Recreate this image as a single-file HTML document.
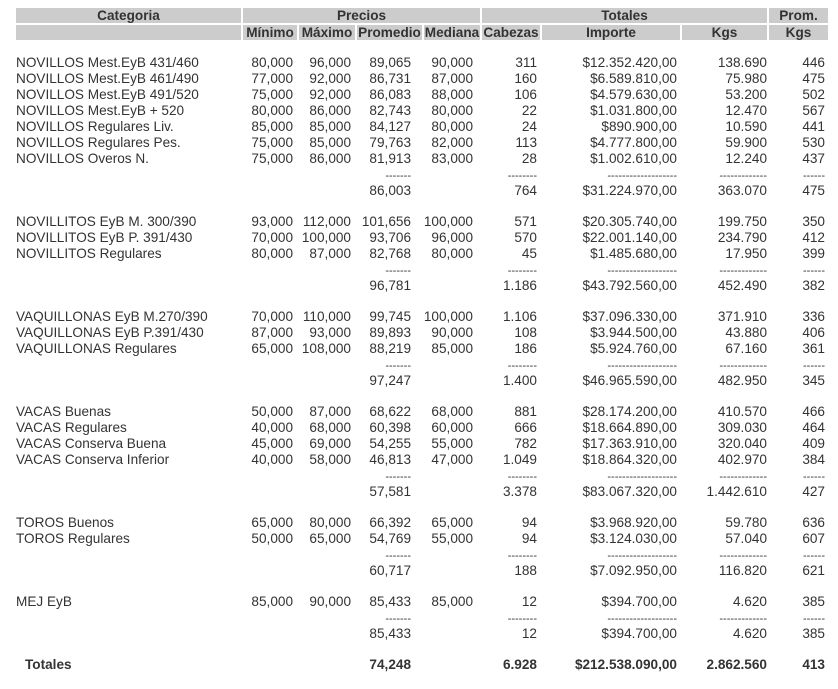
<!DOCTYPE html>
<html><head><meta charset="utf-8"><style>
body{margin:0;width:838px;height:689px;background:#fff;position:relative;font-family:"Liberation Sans",Arial,sans-serif;font-size:13.6px;color:#333;overflow:hidden}
.h{position:absolute;background:#ccc;font-weight:bold;text-align:center;height:15px;line-height:15px;color:#333}
.r{position:absolute;left:0;width:838px;height:16px;line-height:16px}
.r span{position:absolute;white-space:nowrap}
.c{left:16px}.mn{right:545px}.mx{right:487px}.pr{right:427px}.md{right:365px}.cb{right:301px}.im{right:161px}.kg{right:71px}.pk{right:13px}
.d{font-size:11px;top:1px}
.b{font-weight:bold}
</style></head><body>
<div class="h" style="left:16px;top:8px;width:225px">Categoria</div>
<div class="h" style="left:243px;top:8px;width:237px">Precios</div>
<div class="h" style="left:482px;top:8px;width:285px">Totales</div>
<div class="h" style="left:769px;top:8px;width:59px">Prom.</div>
<div class="h" style="left:16px;top:25px;width:225px"></div>
<div class="h" style="left:243px;top:25px;width:54px">Mínimo</div>
<div class="h" style="left:299px;top:25px;width:56px">Máximo</div>
<div class="h" style="left:357px;top:25px;width:65px">Promedio</div>
<div class="h" style="left:424px;top:25px;width:56px">Mediana</div>
<div class="h" style="left:482px;top:25px;width:58px">Cabezas</div>
<div class="h" style="left:542px;top:25px;width:138px">Importe</div>
<div class="h" style="left:682px;top:25px;width:85px">Kgs</div>
<div class="h" style="left:769px;top:25px;width:59px">Kgs</div>

<div class="r" style="top:55px"><span class="c">NOVILLOS Mest.EyB 431/460</span><span class="mn">80,000</span><span class="mx">96,000</span><span class="pr">89,065</span><span class="md">90,000</span><span class="cb">311</span><span class="im">$12.352.420,00</span><span class="kg">138.690</span><span class="pk">446</span></div>
<div class="r" style="top:71px"><span class="c">NOVILLOS Mest.EyB 461/490</span><span class="mn">77,000</span><span class="mx">92,000</span><span class="pr">86,731</span><span class="md">87,000</span><span class="cb">160</span><span class="im">$6.589.810,00</span><span class="kg">75.980</span><span class="pk">475</span></div>
<div class="r" style="top:87px"><span class="c">NOVILLOS Mest.EyB 491/520</span><span class="mn">75,000</span><span class="mx">92,000</span><span class="pr">86,083</span><span class="md">88,000</span><span class="cb">106</span><span class="im">$4.579.630,00</span><span class="kg">53.200</span><span class="pk">502</span></div>
<div class="r" style="top:103px"><span class="c">NOVILLOS Mest.EyB + 520</span><span class="mn">80,000</span><span class="mx">86,000</span><span class="pr">82,743</span><span class="md">80,000</span><span class="cb">22</span><span class="im">$1.031.800,00</span><span class="kg">12.470</span><span class="pk">567</span></div>
<div class="r" style="top:119px"><span class="c">NOVILLOS Regulares Liv.</span><span class="mn">85,000</span><span class="mx">85,000</span><span class="pr">84,127</span><span class="md">80,000</span><span class="cb">24</span><span class="im">$890.900,00</span><span class="kg">10.590</span><span class="pk">441</span></div>
<div class="r" style="top:135px"><span class="c">NOVILLOS Regulares Pes.</span><span class="mn">75,000</span><span class="mx">85,000</span><span class="pr">79,763</span><span class="md">82,000</span><span class="cb">113</span><span class="im">$4.777.800,00</span><span class="kg">59.900</span><span class="pk">530</span></div>
<div class="r" style="top:151px"><span class="c">NOVILLOS Overos N.</span><span class="mn">75,000</span><span class="mx">86,000</span><span class="pr">81,913</span><span class="md">83,000</span><span class="cb">28</span><span class="im">$1.002.610,00</span><span class="kg">12.240</span><span class="pk">437</span></div>
<div class="r" style="top:167px"><span class="pr d">-------</span><span class="cb d">--------</span><span class="im d">-------------------</span><span class="kg d">-------------</span><span class="pk d">------</span></div>
<div class="r" style="top:183px"><span class="pr">86,003</span><span class="cb">764</span><span class="im">$31.224.970,00</span><span class="kg">363.070</span><span class="pk">475</span></div>

<div class="r" style="top:214px"><span class="c">NOVILLITOS EyB M. 300/390</span><span class="mn">93,000</span><span class="mx">112,000</span><span class="pr">101,656</span><span class="md">100,000</span><span class="cb">571</span><span class="im">$20.305.740,00</span><span class="kg">199.750</span><span class="pk">350</span></div>
<div class="r" style="top:230px"><span class="c">NOVILLITOS EyB P. 391/430</span><span class="mn">70,000</span><span class="mx">100,000</span><span class="pr">93,706</span><span class="md">96,000</span><span class="cb">570</span><span class="im">$22.001.140,00</span><span class="kg">234.790</span><span class="pk">412</span></div>
<div class="r" style="top:246px"><span class="c">NOVILLITOS Regulares</span><span class="mn">80,000</span><span class="mx">87,000</span><span class="pr">82,768</span><span class="md">80,000</span><span class="cb">45</span><span class="im">$1.485.680,00</span><span class="kg">17.950</span><span class="pk">399</span></div>
<div class="r" style="top:262px"><span class="pr d">-------</span><span class="cb d">--------</span><span class="im d">-------------------</span><span class="kg d">-------------</span><span class="pk d">------</span></div>
<div class="r" style="top:278px"><span class="pr">96,781</span><span class="cb">1.186</span><span class="im">$43.792.560,00</span><span class="kg">452.490</span><span class="pk">382</span></div>

<div class="r" style="top:309px"><span class="c">VAQUILLONAS EyB M.270/390</span><span class="mn">70,000</span><span class="mx">110,000</span><span class="pr">99,745</span><span class="md">100,000</span><span class="cb">1.106</span><span class="im">$37.096.330,00</span><span class="kg">371.910</span><span class="pk">336</span></div>
<div class="r" style="top:325px"><span class="c">VAQUILLONAS EyB P.391/430</span><span class="mn">87,000</span><span class="mx">93,000</span><span class="pr">89,893</span><span class="md">90,000</span><span class="cb">108</span><span class="im">$3.944.500,00</span><span class="kg">43.880</span><span class="pk">406</span></div>
<div class="r" style="top:341px"><span class="c">VAQUILLONAS Regulares</span><span class="mn">65,000</span><span class="mx">108,000</span><span class="pr">88,219</span><span class="md">85,000</span><span class="cb">186</span><span class="im">$5.924.760,00</span><span class="kg">67.160</span><span class="pk">361</span></div>
<div class="r" style="top:357px"><span class="pr d">-------</span><span class="cb d">--------</span><span class="im d">-------------------</span><span class="kg d">-------------</span><span class="pk d">------</span></div>
<div class="r" style="top:373px"><span class="pr">97,247</span><span class="cb">1.400</span><span class="im">$46.965.590,00</span><span class="kg">482.950</span><span class="pk">345</span></div>

<div class="r" style="top:404px"><span class="c">VACAS Buenas</span><span class="mn">50,000</span><span class="mx">87,000</span><span class="pr">68,622</span><span class="md">68,000</span><span class="cb">881</span><span class="im">$28.174.200,00</span><span class="kg">410.570</span><span class="pk">466</span></div>
<div class="r" style="top:420px"><span class="c">VACAS Regulares</span><span class="mn">40,000</span><span class="mx">68,000</span><span class="pr">60,398</span><span class="md">60,000</span><span class="cb">666</span><span class="im">$18.664.890,00</span><span class="kg">309.030</span><span class="pk">464</span></div>
<div class="r" style="top:436px"><span class="c">VACAS Conserva Buena</span><span class="mn">45,000</span><span class="mx">69,000</span><span class="pr">54,255</span><span class="md">55,000</span><span class="cb">782</span><span class="im">$17.363.910,00</span><span class="kg">320.040</span><span class="pk">409</span></div>
<div class="r" style="top:452px"><span class="c">VACAS Conserva Inferior</span><span class="mn">40,000</span><span class="mx">58,000</span><span class="pr">46,813</span><span class="md">47,000</span><span class="cb">1.049</span><span class="im">$18.864.320,00</span><span class="kg">402.970</span><span class="pk">384</span></div>
<div class="r" style="top:468px"><span class="pr d">-------</span><span class="cb d">--------</span><span class="im d">-------------------</span><span class="kg d">-------------</span><span class="pk d">------</span></div>
<div class="r" style="top:484px"><span class="pr">57,581</span><span class="cb">3.378</span><span class="im">$83.067.320,00</span><span class="kg">1.442.610</span><span class="pk">427</span></div>

<div class="r" style="top:515px"><span class="c">TOROS Buenos</span><span class="mn">65,000</span><span class="mx">80,000</span><span class="pr">66,392</span><span class="md">65,000</span><span class="cb">94</span><span class="im">$3.968.920,00</span><span class="kg">59.780</span><span class="pk">636</span></div>
<div class="r" style="top:531px"><span class="c">TOROS Regulares</span><span class="mn">50,000</span><span class="mx">65,000</span><span class="pr">54,769</span><span class="md">55,000</span><span class="cb">94</span><span class="im">$3.124.030,00</span><span class="kg">57.040</span><span class="pk">607</span></div>
<div class="r" style="top:547px"><span class="pr d">-------</span><span class="cb d">--------</span><span class="im d">-------------------</span><span class="kg d">-------------</span><span class="pk d">------</span></div>
<div class="r" style="top:563px"><span class="pr">60,717</span><span class="cb">188</span><span class="im">$7.092.950,00</span><span class="kg">116.820</span><span class="pk">621</span></div>

<div class="r" style="top:594px"><span class="c">MEJ EyB</span><span class="mn">85,000</span><span class="mx">90,000</span><span class="pr">85,433</span><span class="md">85,000</span><span class="cb">12</span><span class="im">$394.700,00</span><span class="kg">4.620</span><span class="pk">385</span></div>
<div class="r" style="top:610px"><span class="pr d">-------</span><span class="cb d">--------</span><span class="im d">-------------------</span><span class="kg d">-------------</span><span class="pk d">------</span></div>
<div class="r" style="top:626px"><span class="pr">85,433</span><span class="cb">12</span><span class="im">$394.700,00</span><span class="kg">4.620</span><span class="pk">385</span></div>

<div class="r b" style="top:657px"><span style="left:25px">Totales</span><span class="pr">74,248</span><span class="cb">6.928</span><span class="im">$212.538.090,00</span><span class="kg">2.862.560</span><span class="pk">413</span></div>
</body></html>
